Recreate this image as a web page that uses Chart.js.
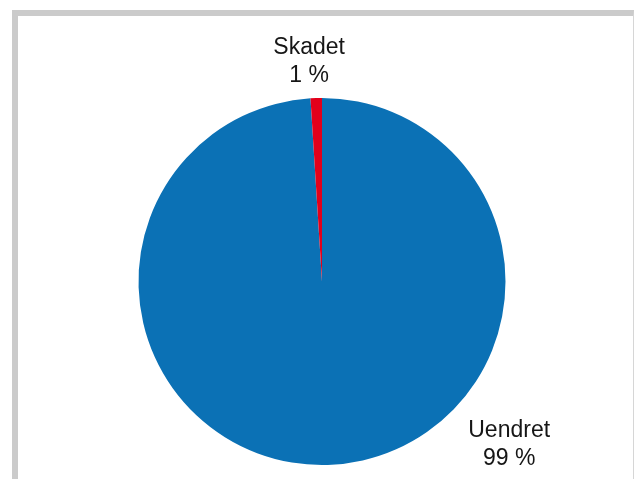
<!DOCTYPE html>
<html>
<head>
<meta charset="utf-8">
<script src="https://cdn.jsdelivr.net/npm/chart.js@4.4.1/dist/chart.umd.min.js"></script>
<style>
  html, body { margin: 0; padding: 0; background: #fff; }
  #frame {
    position: absolute; left: 12px; top: 10px; width: 615px; height: 500px;
    border-top: 6px solid #cbcbcb; border-left: 6px solid #cbcbcb; border-right: 1px solid #d6d6d6;
  }
  #wrap { position: absolute; left: 0; top: 0; width: 635px; height: 479px; }
</style>
</head>
<body>
<div id="frame"></div>
<div id="wrap"><canvas id="myChart" width="635" height="479"></canvas></div>
<script>
const categories = ['Uendret', 'Skadet'];
const shares = [99, 1];
const valueLabels = ['99 %', '1 %'];
const sliceColors = ['#0b71b5', '#e3001b'];

// where each text label sits, relative to pie centre, in radius units
const labelSpots = [
    { dx: 1.02, dy: 0.85 },
    { dx: -0.07, dy: -1.24 }
];

const pieLabels = {
    id: 'pieLabels',
    afterDatasetsDraw(chart) {
        const ctx = chart.ctx;
        const arc = chart.getDatasetMeta(0).data[0];
        const r = arc.outerRadius;
        ctx.save();
        ctx.fillStyle = '#161616';
        ctx.font = '23px "Liberation Sans", Arial, sans-serif';
        ctx.textAlign = 'center';
        ctx.textBaseline = 'alphabetic';
        categories.forEach((name, i) => {
            const x = arc.x + labelSpots[i].dx * r;
            const y = arc.y + labelSpots[i].dy * r;
            ctx.fillText(name, x, y);
            ctx.fillText(valueLabels[i], x, y + 28);
        });
        ctx.restore();
    }
};

const ctx = document.getElementById('myChart');
new Chart(ctx, {
    type: 'pie',
    data: {
        labels: categories,
        datasets: [{
            data: shares,
            backgroundColor: sliceColors,
            borderWidth: 0
        }]
    },
    options: {
        responsive: false,
        animation: false,
        layout: { padding: { left: 20, right: 11, top: 98, bottom: 14 } },
        plugins: {
            legend: { display: false },
            tooltip: { enabled: false }
        }
    },
    plugins: [pieLabels]
});
</script>
</body>
</html>
